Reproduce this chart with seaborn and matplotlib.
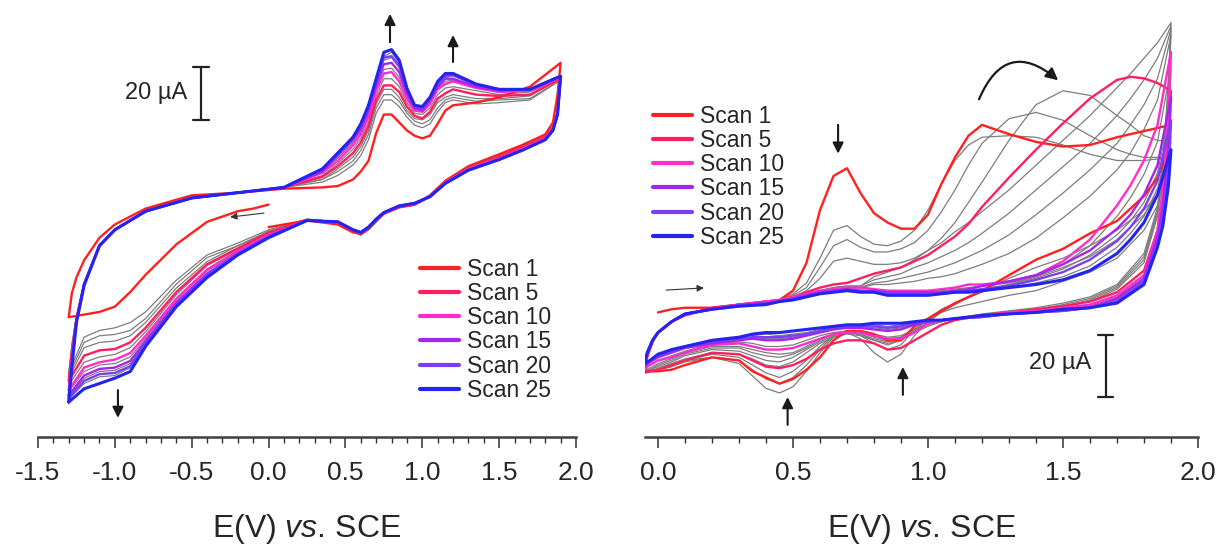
import matplotlib
matplotlib.use("Agg")
import matplotlib.pyplot as plt
from matplotlib.lines import Line2D
from matplotlib.patches import FancyArrowPatch
from matplotlib.ticker import MultipleLocator, FormatStrFormatter
import pandas as pd
import seaborn as sns

# ---------------- left panel: -1.3 V .. 1.9 V (currents in uA) ----------------
L_FWD_E = [-1.30, -1.28, -1.25, -1.20, -1.10, -1.00, -0.80, -0.50, -0.20, 0.10,
           0.35, 0.45, 0.55, 0.60, 0.65, 0.70, 0.75, 0.80, 0.85, 0.90,
           0.95, 1.00, 1.05, 1.10, 1.15, 1.20, 1.35, 1.50, 1.70, 1.90]
L_REV_E = [1.90, 1.88, 1.85, 1.80, 1.65, 1.50, 1.30, 1.15, 1.05, 0.95,
           0.85, 0.75, 0.70, 0.65, 0.60, 0.55, 0.45, 0.25, 0.00, -0.20,
           -0.40, -0.60, -0.80, -0.90, -1.00, -1.10, -1.20, -1.30]

# scan 1 starts at 0 V and first goes cathodic
L_S1_START_E = [0.0, -0.1, -0.2, -0.4, -0.6, -0.8, -0.9, -1.0, -1.1, -1.2, -1.3]
L_S1_START_I = [-5.5, -7, -8, -12, -20.5, -32, -38.5, -44, -46, -47, -48]

L_F1 = [-48, -39, -33, -26.5, -18, -13, -7, -2, -1, 0.5, 1, 1.5, 4, 7, 11, 21.5, 28.5, 28.5, 25.5, 22.5,
        20.5, 19.5, 20.5, 25, 30, 32, 33, 35, 39, 48]
L_R1 = [48, 36, 25.5, 21, 17, 13.5, 9, 3.5, -2, -5.5, -6.5, -8.5, -11.5, -14.5, -16.5, -16, -13, -11.5, -14]

L_F2 = [-69, -58.5, -47.5, -35.5, -21, -15, -8, -3, -1, 1, 3, 5.5, 9.5, 13, 19, 29, 34, 34, 31.5, 27.5,
        24.5, 23.5, 25, 29.5, 33, 34, 32.5, 33, 34, 41.5]
L_R2 = [41.5, 30, 24, 20.5, 16.5, 13, 8.5, 3, -2.5, -5.5, -6.5, -9, -12, -15, -17, -15.5, -12, -11,
        -15, -20, -24.5, -34, -46, -50, -52, -53, -55.5, -69]
L_F3 = [-70, -59, -48, -35.5, -21, -15, -8, -3, -1, 1, 4, 7, 11, 15, 21, 31, 36, 36, 33.5, 29,
        26, 25, 26.5, 31, 34, 35, 33.5, 34, 34.5, 41.5]
L_R3 = [41.5, 30, 24, 20.5, 16.5, 12.5, 8.5, 3, -2.5, -5.5, -6.5, -9, -12, -15, -17, -15.5, -12, -11,
        -15.5, -21, -25.5, -35.5, -48.5, -53, -54.5, -55, -57.5, -70]
L_F4 = [-71, -60, -48, -35.5, -21, -15, -8, -3, -1, 1, 4, 8, 12.5, 16.5, 22.5, 32.5, 38, 38, 35, 30,
        27, 26.5, 28.5, 33, 35, 36, 34.5, 34.5, 35.5, 42]
L_R4 = [42, 29.5, 23.5, 20, 16, 12.5, 8, 3, -2.5, -5.5, -6.5, -9, -12, -15, -17, -15.5, -12, -11,
        -16, -21, -27, -37, -50, -55, -57, -57.5, -59.5, -71]
L_F5 = [-72, -61, -48.5, -35.5, -21, -15, -8, -3, -1, 1, 5, 9, 14, 18, 24, 34, 39.5, 39.5, 37, 31.5,
        28, 27, 29.5, 34.5, 36.5, 38, 36, 35.5, 36, 42]
L_R5 = [42, 29.5, 23.5, 20, 16, 12.5, 8, 3, -2.5, -5.5, -6.5, -9, -11.5, -14.5, -16.5, -15.5, -12, -11.5,
        -16, -22, -28, -38.5, -52, -57.5, -60, -60.5, -62.5, -72]
L_F7 = [-73.5, -62, -48.5, -35.5, -21, -15, -8, -3, -1, 1, 5.5, 10, 15.5, 19.5, 25.5, 35.5, 42, 42, 39, 33,
        29, 28.5, 31, 36, 38.5, 39, 37.5, 36, 37, 42]
L_R7 = [42, 29, 23, 19.5, 15.5, 12, 8, 3, -2.5, -5, -6, -8.5, -11.5, -14.5, -16.5, -15, -12, -11.5,
        -16.5, -22.5, -28.5, -39.5, -53.5, -59.5, -62, -63, -65, -73.5]
L_F10 = [-75.5, -63.5, -49, -35.5, -21, -15, -8, -3, -1, 1, 6.5, 11, 17, 21, 27.5, 37.5, 44, 44.5, 41, 34.5,
         30, 29.5, 32.5, 38, 40, 41, 38.5, 37, 37.5, 42.5]
L_R10 = [42.5, 29, 23, 19.5, 15.5, 12, 8, 3, -2.5, -5, -6, -8.5, -11, -14, -16, -15, -12, -11.5,
         -17, -23, -30, -41, -55, -61.5, -64, -65, -67, -75.5]
L_F12 = [-76, -64, -49, -35.5, -21, -15, -8, -3, -1, 1, 7, 12, 18, 22, 28.5, 38.5, 45.5, 46, 42.5, 35.5,
         30.5, 30, 33, 38.5, 41, 41.5, 39, 37.5, 38, 43]
L_R12 = [43, 29, 23, 19.5, 15.5, 12, 7.5, 2.5, -2.5, -5, -6, -8.5, -11, -14, -16, -15, -12, -11.5,
         -17.5, -23.5, -30.5, -41.5, -56, -63, -65.5, -66, -68.5, -76]
L_F15 = [-77.5, -65, -49.5, -35.5, -21, -15, -8, -3, -1, 1, 7, 13, 19, 23, 30, 39.5, 47.5, 48, 44.5, 36.5,
         31, 30, 34, 39, 42, 42, 39, 37.5, 38, 43]
L_R15 = [43, 28.5, 22.5, 19, 15, 11.5, 7.5, 2.5, -2.5, -5, -6, -8.5, -11, -14, -16, -15, -12, -11.5,
         -17.5, -24, -31.5, -42.5, -57, -64.5, -67, -67.5, -70, -77.5]
L_F17 = [-78, -65.5, -49.5, -35.5, -21, -15, -8, -3, -1, 1, 7.5, 13, 19.5, 24, 30.5, 41, 49, 50, 46, 37.5,
         31.5, 30.5, 34.5, 40, 42.5, 43, 39.5, 38, 38, 43]
L_R17 = [43, 28.5, 22.5, 19, 15, 11.5, 7.5, 2.5, -2.5, -5, -6, -8.5, -11, -14, -16, -15, -12, -11.5,
         -17.5, -24, -31.5, -43, -57.5, -65.5, -68, -68.5, -71, -78]
L_F20 = [-78.5, -66, -50, -35.5, -21, -15, -8, -3, -1, 1, 8, 13.5, 20, 24, 31, 41, 50, 50.5, 47, 38,
         31.5, 31, 34.5, 40, 43, 43.5, 39.5, 38, 38, 43]
L_R20 = [43, 28.5, 22.5, 19, 15, 11.5, 7.5, 2.5, -2.5, -5, -6, -8.5, -11, -14, -16, -15, -12, -11.5,
         -17.5, -24, -32, -43.5, -58, -66.5, -69, -69.5, -72, -78.5]
L_F22 = [-79, -66.5, -50, -35.5, -21, -15, -8, -3, -1, 1, 8, 14, 20, 24.5, 31.5, 41.5, 50.5, 52, 48, 38,
         31.5, 31.5, 34.5, 40.5, 43.5, 44, 40, 38, 38, 43]
L_R22 = [43, 28.5, 22.5, 19, 15, 11.5, 7.5, 2.5, -2.5, -5, -6, -8.5, -11, -14, -16, -15, -12, -11.5,
         -18, -24.5, -32.5, -44, -58.5, -67, -70, -70.5, -73, -79]
L_F25 = [-80, -67, -50, -36, -21, -15, -8, -3, -1, 1, 8, 14, 20, 25, 32, 42, 52, 53, 49, 38.5,
         32, 31.5, 35, 41, 44, 44, 40, 38, 38, 43]
L_R25 = [43, 28.5, 22.5, 19, 15, 11.5, 7.5, 2.5, -2.5, -5, -6, -8.5, -11, -14, -16, -15, -12, -11.5,
         -18, -24.5, -33, -44, -59, -68.5, -71, -73, -75, -80]

# ---------------- right panel: -0.05 V .. 1.9 V (currents in uA) ----------------
R_FWD_E = [-0.05, -0.04, -0.02, 0.0, 0.05, 0.1, 0.2, 0.3, 0.4, 0.45,
           0.5, 0.55, 0.6, 0.65, 0.7, 0.75, 0.8, 0.85, 0.9, 0.95,
           1.0, 1.05, 1.1, 1.15, 1.2, 1.3, 1.4, 1.5, 1.6, 1.7,
           1.75, 1.8, 1.85, 1.9]
R_REV_E = [1.9, 1.89, 1.87, 1.85, 1.8, 1.7, 1.6, 1.5, 1.4, 1.3,
           1.2, 1.1, 1.05, 1.0, 0.95, 0.9, 0.85, 0.8, 0.75, 0.7,
           0.65, 0.6, 0.55, 0.5, 0.45, 0.4, 0.35, 0.3, 0.2, 0.1,
           0.05, 0.0, -0.03, -0.05]

# scan 1 starts at 0 V (first three forward potentials not swept)
R_F1 = [-4, -3, -2.5, -2.5, -1.5, -0.5, 0, 3, 12, 29, 40, 42.5, 34.5, 28, 25, 23, 23,
        27.5, 37.5, 46, 53, 56.5, 53.5, 51, 49.5, 50, 52.5, 53.5, 54.5, 55.5, 56.5]
R_R1 = [56.5, 49, 43.5, 39.5, 33.5, 25.5, 21.5, 16.5, 13, 8, 3, -1, -3.5, -6, -8.5, -13, -13, -11, -10, -10,
        -13, -18.5, -22.5, -25.5, -27, -25, -23, -19.5, -18.5, -21, -22.5, -23, -23, -23.5]

R_F2 = [-23, -18.5, -13.5, -10.5, -7, -5, -2.5, -1.5, -0.5, 0, 2, 5.5, 13.5, 22.5, 24, 20.5, 18, 17.5, 19, 22.5,
        29, 37.5, 45, 50, 52.5, 53, 52.5, 50, 47, 45, 45, 45, 45.5, 46]
R_R2 = [46, 42, 37, 34, 29, 22.5, 17.5, 13.5, 10.5, 7, 3, -1.5, -4, -7, -11.5, -17.5, -20, -17, -12.5, -10.5,
        -12, -17, -23, -28, -30, -28.5, -24.5, -20.5, -18.5, -20, -21.5, -22.5, -23, -23]
R_F3 = [-23, -18.5, -13.5, -10.5, -7, -5, -2.5, -1.5, -0.5, 0, 1.5, 4, 10.5, 17.5, 19.5, 17, 15.5, 15.5, 16.5, 18.5,
        22.5, 28.5, 35.5, 43.5, 50.5, 58.5, 60.5, 58, 53, 48.5, 47, 46, 46, 46.5]
R_R3 = [46.5, 42.5, 37.5, 34, 27.5, 19.5, 14, 10.5, 7.5, 5, 2.5, -1, -3, -6, -9.5, -14.5, -16, -14, -11.5, -10,
        -11.5, -16, -21, -25, -27, -25.5, -22.5, -19.5, -18.5, -19.5, -21.5, -22.5, -23, -23]
R_F4 = [-23, -18.5, -13.5, -10.5, -7, -5, -2.5, -1.5, -0.5, 0, 1, 3, 7, 12.5, 13.5, 12.5, 11.5, 11.5, 12, 13.5,
        16, 20, 25, 31.5, 38, 51.5, 63, 67.5, 66, 59.5, 56.5, 53, 51.5, 51]
R_R4 = [51, 45, 37, 30.5, 22.5, 13.5, 9, 6, 3, 1.5, -0.5, -2.5, -4, -6.5, -9.5, -13, -14.5, -13, -11, -10,
        -11.5, -15, -19.5, -23, -25, -23.5, -21, -18.5, -17.5, -19.5, -21, -22.5, -23, -23]
R_F5 = [-23, -18.5, -13.5, -10.5, -7, -5, -2.5, -1.5, -0.5, 0, 1, 2.5, 4, 5, 5.5, 7, 8.5, 9.5, 10.5, 12.5,
        14.5, 17.5, 20.5, 24.5, 30, 39.5, 48.5, 57, 65, 71, 72, 71.5, 70, 67.5]
R_R5 = [67.5, 55, 35.5, 22.5, 9.5, 2.5, -0.5, -2, -3, -4, -5, -6.5, -8, -10.5, -13, -15.5, -16, -14, -13, -13,
        -14, -16, -19, -21, -22, -21.5, -19.5, -17.5, -17, -19.5, -21, -22.5, -23, -23]
R_F6 = [-23, -18.5, -13.5, -10.5, -7, -5, -2.5, -1.5, -0.5, 0, 1, 2, 3, 4, 4.5, 4.5, 7.5, 9, 10.5, 13,
        16, 18.5, 22, 25, 28.5, 35.5, 43.5, 51.5, 59.5, 68.5, 73, 78, 83, 89.5]
R_R6 = [89.5, 70, 45, 30, 15, 5, 1, -1, -2.5, -3.5, -4.5, -6, -7, -8.5, -10.5, -13, -14, -13, -11.5, -11,
        -12, -14, -17, -20, -21.5, -21, -19, -17.5, -17, -19, -20.5, -22, -23, -23]
R_F7 = [-22.5, -18, -13.5, -10.5, -7, -4.5, -2.5, -1.5, -0.5, 0, 1, 2, 3, 4, 4.5, 4.5, 6.5, 7.5, 8.5, 10.5,
        12, 14, 16, 18.5, 21.5, 28, 35.5, 43, 50.5, 59.5, 65, 71, 78, 88.5]
R_R7 = [88.5, 68, 44, 29, 14, 4.5, 0.5, -1.5, -3, -4, -5, -6, -7, -8, -10, -12.5, -13.5, -12.5, -11, -10.5,
        -11.5, -13.5, -16, -18.5, -20, -19.5, -18, -16.5, -16, -18, -20, -21.5, -22.5, -22.5]
R_F8 = [-22.5, -18, -13, -10.5, -7, -4.5, -2.5, -1.5, -0.5, 0, 1, 2, 3, 3.5, 4, 4, 5.5, 6, 7, 8,
        9, 10.5, 12, 14, 16, 21, 27.5, 34.5, 42, 50.5, 56.5, 63, 71.5, 87.5]
R_R8 = [87.5, 66, 43, 28, 13, 4, 0, -2, -3, -4, -5, -6, -6.5, -7.5, -9.5, -12, -13, -12, -10.5, -10,
        -11, -13, -15.5, -17.5, -18.5, -18, -17, -15.5, -15.5, -17.5, -19.5, -21, -22.5, -22.5]
R_F9 = [-22, -17.5, -13, -10.5, -7, -4.5, -2.5, -1.5, -0.5, 0, 1, 2, 3, 3.5, 4, 4, 5, 5, 5.5, 6,
        7, 7.5, 8.5, 10, 11.5, 15, 20, 26.5, 33.5, 42, 47.5, 55, 64.5, 85.5]
R_R9 = [85.5, 64, 42, 27, 12, 3.5, -0.5, -2, -3, -4, -5, -6, -6.5, -7.5, -9.5, -12, -12.5, -11.5, -10.5, -10,
        -11, -12.5, -15, -17, -17.5, -17, -16, -15, -15, -17, -19, -20.5, -22, -22]
R_F10 = [-22, -17.5, -13, -10.5, -7, -4.5, -3, -1.5, -0.5, 0, 1, 2, 3, 3.5, 4, 4, 3.5, 3, 3, 3,
         3, 3.5, 4, 5, 5, 6, 8, 12.5, 19.5, 30.5, 37, 45, 56.5, 80]
R_R10 = [80, 58, 35.5, 22.5, 8, 1.5, -1.5, -2.5, -3.5, -4, -5, -6, -6.5, -7.5, -10.5, -12.5, -12.5, -11.5, -10.5, -10.5,
         -11, -12.5, -14, -15.5, -16, -16, -15, -14, -14.5, -17, -18.5, -19.5, -21, -22]
R_F12 = [-22, -17.5, -13, -10.5, -7, -4.5, -3, -1.5, -0.5, 0, 1, 2, 3, 3.5, 4, 4, 3.5, 3, 3, 3,
         3, 3, 3.5, 4, 4.5, 5.5, 7.5, 11.5, 17.5, 27, 33, 40.5, 51, 75]
R_R12 = [75, 56, 33, 20.5, 7, 1, -2, -3, -4, -4.5, -5.5, -6, -6.5, -7.5, -9.5, -11.5, -12, -11, -10, -10,
         -10.5, -11.5, -13, -14.5, -15, -15, -14, -13.5, -14, -16.5, -18, -19.5, -21, -22]
R_F15 = [-21.5, -17, -13, -10.5, -7, -4.5, -3, -1.5, -1, -0.5, 0.5, 1.5, 2.5, 3, 3.5, 3, 3, 2.5, 2.5, 2.5,
         2.5, 2.5, 3, 3.5, 4.5, 6, 8, 11.5, 16, 23, 27.5, 34, 43.5, 65.5]
R_R15 = [65.5, 48, 30, 20.5, 7, 0.5, -2.5, -3.5, -4, -4.5, -5.5, -6, -6.5, -7, -8, -9.5, -10, -9.5, -9, -9,
         -9.5, -10.5, -11.5, -12.5, -13, -13, -12.5, -13, -14, -15.5, -17, -18.5, -20, -21.5]
R_F17 = [-21.5, -17, -13, -10.5, -7, -4.5, -3, -1.5, -1, -0.5, 0.5, 1.5, 2.5, 3, 3, 3, 2.5, 2.5, 2, 2,
         2, 2.5, 2.5, 3, 3.5, 5, 7, 10, 14.5, 21, 25.5, 31.5, 41, 62]
R_R17 = [62, 45, 29, 20, 6.5, 0, -2.5, -3.5, -4, -4.5, -5.5, -6, -6.5, -7, -8, -9, -9.5, -9, -8.5, -8.5,
         -9, -10, -11, -12, -12.5, -12.5, -12, -12.5, -14, -15, -16.5, -18, -20, -21.5]
R_F20 = [-21, -17, -13, -10.5, -7, -4.5, -3, -2, -1, -0.5, 0.5, 1.5, 2, 3, 3, 3, 2.5, 2, 2, 2,
         2, 2, 2.5, 3, 3.5, 4.5, 6.5, 9, 13, 19, 23.5, 29.5, 38.5, 58]
R_R20 = [58, 42, 27.5, 19, 6, -0.5, -2.5, -3.5, -4, -4.5, -5.5, -6, -6.5, -7, -7.5, -8.5, -9, -8.5, -8.5, -8.5,
         -9, -10, -11, -11.5, -12, -12, -12, -12.5, -13.5, -15, -16.5, -18, -19.5, -21]
R_F22 = [-21, -17, -13, -10.5, -7, -4.5, -3, -2, -1.5, -0.5, 0, 1, 2, 2.5, 3, 2.5, 2.5, 2, 1.5, 1.5,
         1.5, 2, 2.5, 2.5, 3, 4, 5.5, 7.5, 11, 17, 21.5, 27, 36, 53]
R_R22 = [53, 39, 26, 18, 5.5, -1, -2.5, -3.5, -4, -4.5, -5.5, -6, -6.5, -7, -7.5, -8, -8.5, -8, -8, -8,
         -8.5, -9.5, -10.5, -11, -11.5, -11, -11.5, -12, -13.5, -15, -16, -17.5, -19.5, -21]
R_F25 = [-20.5, -17, -13, -10.5, -7, -4.5, -3, -2, -1.5, -0.5, 0, 1, 2, 2.5, 3, 2.5, 2.5, 1.5, 1.5, 1.5,
         1.5, 2, 2.5, 2.5, 3, 4, 5, 6.5, 9.5, 15, 19.5, 25, 34, 48.5]
R_R25 = [48.5, 36.5, 24, 17, 5, -1, -2.5, -3, -4, -4.5, -5, -6, -6.5, -6.5, -7, -7.5, -7.5, -7.5, -8, -8,
         -8.5, -9, -9.5, -10, -10.5, -10.5, -11, -12, -13, -15, -16, -17.5, -19.5, -20.5]

LEGEND_SCANS = [1, 5, 10, 15, 20, 25]
LEGEND_LABELS = ["Scan 1", "Scan 5", "Scan 10", "Scan 15", "Scan 20", "Scan 25"]
SCAN_COLORS = {1: "#ff2020", 5: "#ff1f5e", 10: "#ff2bcc", 15: "#a724ee", 20: "#7b3ef0", 25: "#2424f0"}
GRAY = "#7d7d7d"

LEFT_SCANS = {
    2: (L_F2, L_R2), 3: (L_F3, L_R3), 4: (L_F4, L_R4), 7: (L_F7, L_R7), 12: (L_F12, L_R12),
    17: (L_F17, L_R17), 22: (L_F22, L_R22),
    5: (L_F5, L_R5), 10: (L_F10, L_R10), 15: (L_F15, L_R15), 20: (L_F20, L_R20), 25: (L_F25, L_R25),
}
RIGHT_SCANS = {
    2: (R_F2, R_R2), 3: (R_F3, R_R3), 4: (R_F4, R_R4), 6: (R_F6, R_R6), 7: (R_F7, R_R7),
    8: (R_F8, R_R8), 9: (R_F9, R_R9), 12: (R_F12, R_R12), 17: (R_F17, R_R17), 22: (R_F22, R_R22),
    5: (R_F5, R_R5), 10: (R_F10, R_R10), 15: (R_F15, R_R15), 20: (R_F20, R_R20), 25: (R_F25, R_R25),
}

sns.set_theme(style="white")
plt.rcParams["font.family"] = ["Liberation Sans", "DejaVu Sans"]
plt.rcParams["mathtext.fontset"] = "custom"
plt.rcParams["mathtext.rm"] = "Liberation Sans"
plt.rcParams["mathtext.it"] = "Liberation Sans:italic"
plt.rcParams["axes.unicode_minus"] = False


def draw(ax, e, i, color, lw, z):
    df = pd.DataFrame({"E": list(e), "I": list(i)})
    sns.lineplot(data=df, x="E", y="I", sort=False, estimator=None,
                 color=color, lw=lw, ax=ax, zorder=z)


def scan_style(n):
    if n in SCAN_COLORS:
        return SCAN_COLORS[n], (2.2 if n == 25 else 1.7), 3 + LEGEND_SCANS.index(n)
    return GRAY, 0.9, 2


def arrow(ax, tail, head, lw=1.5, ms=16, color="k"):
    ax.annotate("", xy=head, xytext=tail,
                arrowprops=dict(arrowstyle="-|>", color=color, lw=lw,
                                mutation_scale=ms, shrinkA=0, shrinkB=0))


def style_axis(ax, xlim, ylim):
    ax.set_xlim(*xlim)
    ax.set_ylim(*ylim)
    for s in ["left", "right", "top"]:
        ax.spines[s].set_visible(False)
    ax.spines["bottom"].set_linewidth(1.8)
    ax.spines["bottom"].set_color("#404040")
    ax.set_yticks([])
    ax.set_ylabel("")
    ax.xaxis.set_major_locator(MultipleLocator(0.5))
    ax.xaxis.set_minor_locator(MultipleLocator(0.1))
    ax.xaxis.set_major_formatter(FormatStrFormatter("%.1f"))
    ax.tick_params(axis="x", which="major", bottom=True, direction="out", length=8,
                   width=1.1, color="#303030", labelsize=19, pad=9)
    ax.tick_params(axis="x", which="minor", bottom=True, direction="out", length=4,
                   width=1.0, color="#303030")
    ax.set_xlabel(r"E(V) $\mathit{vs}$. SCE", fontsize=23, labelpad=20)
    ax.patch.set_alpha(0)


def legend(ax, x, y):
    handles = [Line2D([0], [0], color=SCAN_COLORS[n], lw=3) for n in LEGEND_SCANS]
    ax.legend(handles, LEGEND_LABELS, loc="upper left", bbox_to_anchor=(x, y),
              bbox_transform=ax.figure.transFigure, frameon=False, fontsize=16.5,
              handlelength=1.7, handletextpad=0.35, labelspacing=0.05,
              borderpad=0, borderaxespad=0)


W, H = 1225, 547
fig = plt.figure(figsize=(W / 100, H / 100), dpi=100)
ax_l = fig.add_axes([38 / W, 1 - 437 / H, 538 / W, 429 / H])
ax_r = fig.add_axes([644.5 / W, 1 - 437 / H, 553.5 / W, 429 / H])

# ---- left panel ----
for n in [2, 3, 4, 7, 12, 17, 22]:
    f, r = LEFT_SCANS[n]
    c, lw, z = scan_style(n)
    draw(ax_l, L_FWD_E + L_REV_E, f + r, c, lw, z)
c, lw, z = scan_style(1)
draw(ax_l, L_S1_START_E + L_FWD_E + L_REV_E[:len(L_R1)], L_S1_START_I + L_F1 + L_R1, c, lw, z)
for n in [5, 10, 15, 20, 25]:
    f, r = LEFT_SCANS[n]
    c, lw, z = scan_style(n)
    draw(ax_l, L_FWD_E + L_REV_E, f + r, c, lw, z)

style_axis(ax_l, (-1.5, 2.0), (-93.2, 68.7))
# 20 uA scale bar
ax_l.plot([-0.44, -0.44], [26.4, 46.4], color="#222222", lw=1.6)
ax_l.plot([-0.49, -0.39], [46.4, 46.4], color="#222222", lw=1.6)
ax_l.plot([-0.49, -0.39], [26.4, 26.4], color="#222222", lw=1.6)
ax_l.text(-0.53, 36.6, "20 µA", ha="right", va="center", fontsize=17)
arrow(ax_l, (0.79, 55.8), (0.79, 66.5))
arrow(ax_l, (1.20, 48.3), (1.20, 58.5))
arrow(ax_l, (-0.98, -75.5), (-0.98, -86))
arrow(ax_l, (-0.03, -8.7), (-0.25, -10.2), lw=0.8, ms=10, color="#333333")
legend(ax_l, 420 / W, 1 - 258 / H)

# ---- right panel ----
for n in [2, 3, 4, 6, 7, 8, 9, 12, 17, 22]:
    f, r = RIGHT_SCANS[n]
    c, lw, z = scan_style(n)
    draw(ax_r, R_FWD_E + R_REV_E, f + r, c, lw, z)
c, lw, z = scan_style(1)
draw(ax_r, R_FWD_E[-len(R_F1):] + R_REV_E, R_F1 + R_R1, c, lw, z)
for n in [5, 10, 15, 20, 25]:
    f, r = RIGHT_SCANS[n]
    c, lw, z = scan_style(n)
    draw(ax_r, R_FWD_E + R_REV_E, f + r, c, lw, z)

style_axis(ax_r, (-0.05, 2.0), (-44.2, 94.2))
ax_r.plot([1.659, 1.659], [-31.3, -11.3], color="#222222", lw=1.6)
ax_r.plot([1.63, 1.685], [-11.3, -11.3], color="#222222", lw=1.6)
ax_r.plot([1.63, 1.685], [-31.3, -31.3], color="#222222", lw=1.6)
ax_r.text(1.605, -20.3, "20 µA", ha="right", va="center", fontsize=17)
arrow(ax_r, (0.667, 56.5), (0.667, 47.2))
arrow(ax_r, (0.48, -40.3), (0.48, -31.3))
arrow(ax_r, (0.907, -30.6), (0.907, -21.6))
arrow(ax_r, (0.03, 3.2), (0.17, 3.9), lw=0.8, ms=10, color="#333333")
ax_r.add_patch(FancyArrowPatch((1.185, 63.9), (1.49, 70.3), connectionstyle="arc3,rad=-0.7",
                               arrowstyle="-|>", mutation_scale=18, lw=1.6, color="k"))
legend(ax_r, 653 / W, 1 - 105 / H)

fig.savefig("out.png", dpi=100)
